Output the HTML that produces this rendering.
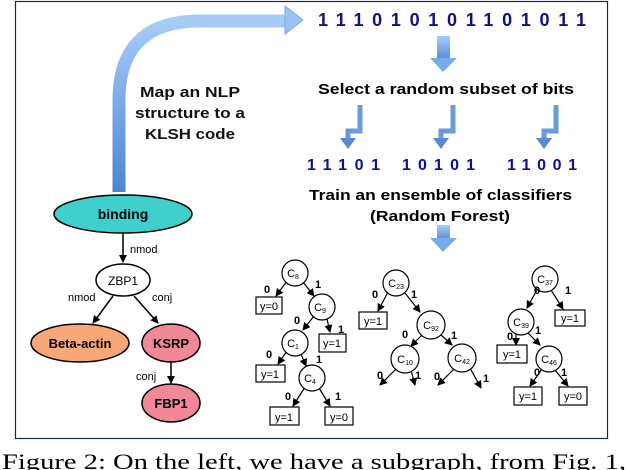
<!DOCTYPE html>
<html><head><meta charset="utf-8"><style>
body{margin:0;background:#fff;width:628px;height:470px;overflow:hidden}
svg{display:block}
.b{font-family:"Liberation Sans",sans-serif;font-weight:bold}
.s{font-family:"Liberation Sans",sans-serif}
</style></head><body>
<svg width="628" height="470" viewBox="0 0 628 470" xmlns="http://www.w3.org/2000/svg">
<defs>
<linearGradient id="g1" x1="0" y1="1" x2="0" y2="0"><stop offset="0" stop-color="#4a86d2"/><stop offset="1" stop-color="#a8ccf8"/></linearGradient>
<linearGradient id="g2" x1="0" y1="0" x2="0" y2="1"><stop offset="0" stop-color="#a8ccf8"/><stop offset="1" stop-color="#5a92da"/></linearGradient>
<marker id="a" markerWidth="8" markerHeight="8" refX="7" refY="4" orient="auto" markerUnits="userSpaceOnUse"><path d="M0,0 L8,4 L0,8 Z" fill="#000"/></marker>
</defs>
<rect x="15.5" y="1.5" width="592" height="437" fill="#fff" stroke="#1a2a3a" stroke-width="1.2"/>
<path d="M119,192 L119,100 Q119,21 200,21 L287,21" fill="none" stroke="url(#g1)" stroke-width="13"/>
<path d="M285,6 L303,20 L285,34 Z" fill="#9cc2f2" stroke="#7aa6e0" stroke-width="1"/>
<g class="b" font-size="15" fill="#111">
<text x="140" y="97" textLength="100" lengthAdjust="spacingAndGlyphs">Map an NLP</text>
<text x="135" y="118" textLength="110" lengthAdjust="spacingAndGlyphs">structure to a</text>
<text x="145" y="139" textLength="90" lengthAdjust="spacingAndGlyphs">KLSH code</text>
</g>
<ellipse cx="123" cy="214" rx="69" ry="19" fill="#40d0cc" stroke="#000" stroke-width="1.5"/>
<text x="123" y="219" class="b" font-size="14" text-anchor="middle">binding</text>
<line x1="123" y1="233" x2="123" y2="262" stroke="#000" stroke-width="1.5" marker-end="url(#a)"/>
<text x="130" y="253" class="s" font-size="11">nmod</text>
<ellipse cx="123" cy="280" rx="27" ry="16" fill="#fff" stroke="#000" stroke-width="1.5"/>
<text x="123" y="285" class="s" font-size="12" text-anchor="middle">ZBP1</text>
<line x1="113" y1="296" x2="93" y2="323" stroke="#000" stroke-width="1.5" marker-end="url(#a)"/>
<text x="68" y="301" class="s" font-size="11">nmod</text>
<line x1="134" y1="296" x2="158" y2="323" stroke="#000" stroke-width="1.5" marker-end="url(#a)"/>
<text x="152" y="301" class="s" font-size="11">conj</text>
<ellipse cx="80" cy="343" rx="49" ry="19" fill="#f8a878" stroke="#000" stroke-width="1.5"/>
<text x="80" y="348" class="b" font-size="13" text-anchor="middle">Beta-actin</text>
<ellipse cx="171" cy="343" rx="29" ry="19" fill="#f08898" stroke="#000" stroke-width="1.5"/>
<text x="171" y="348" class="b" font-size="13" text-anchor="middle">KSRP</text>
<line x1="171" y1="362" x2="171" y2="383" stroke="#000" stroke-width="1.5" marker-end="url(#a)"/>
<text x="136" y="380" class="s" font-size="11">conj</text>
<ellipse cx="171" cy="403" rx="29" ry="19" fill="#f08898" stroke="#000" stroke-width="1.5"/>
<text x="171" y="408" class="b" font-size="13" text-anchor="middle">FBP1</text>
<text x="318" y="26" class="b" font-size="18" fill="#10108a" textLength="268" lengthAdjust="spacing">111010101101011</text>
<rect x="437" y="36" width="13" height="22" fill="url(#g2)"/>
<path d="M430,58 L457,58 L443,72 Z" fill="#7aaaea"/>
<text x="318" y="94" class="b" font-size="15" textLength="256" lengthAdjust="spacingAndGlyphs">Select a random subset of bits</text>
<g fill="none" stroke="#6a9ad8" stroke-width="5">
<path d="M360,105 L360,131 L348,131 L348,140"/>
<path d="M453,105 L453,131 L441,131 L441,140"/>
<path d="M556,105 L556,131 L544,131 L544,140"/>
</g>
<g fill="#5a88cc">
<path d="M340,138 L356,138 L348,149 Z"/><path d="M433,138 L449,138 L441,149 Z"/><path d="M536,138 L552,138 L544,149 Z"/>
</g>
<g class="b" font-size="16" fill="#10108a">
<text x="307" y="170" textLength="73" lengthAdjust="spacing">11101</text>
<text x="402" y="170" textLength="73" lengthAdjust="spacing">10101</text>
<text x="507" y="170" textLength="70" lengthAdjust="spacing">11001</text>
</g>
<g class="b" font-size="15">
<text x="309" y="200" textLength="263" lengthAdjust="spacingAndGlyphs">Train an ensemble of classifiers</text>
<text x="370" y="221" textLength="140" lengthAdjust="spacingAndGlyphs">(Random Forest)</text>
</g>
<rect x="437" y="225" width="13" height="14" fill="url(#g2)"/>
<path d="M430,238 L457,238 L443,252 Z" fill="#7aaaea"/>
<g stroke="#000" stroke-width="1.2" fill="none">
<line x1="287" y1="281" x2="276" y2="296" marker-end="url(#a)"/>
<line x1="303" y1="282" x2="314" y2="296" marker-end="url(#a)"/>
<line x1="314" y1="316" x2="303" y2="330" marker-end="url(#a)"/>
<line x1="327" y1="319" x2="330" y2="332" marker-end="url(#a)"/>
<line x1="287" y1="351" x2="278" y2="364" marker-end="url(#a)"/>
<line x1="301" y1="354" x2="306" y2="366" marker-end="url(#a)"/>
<line x1="305" y1="387" x2="293" y2="406" marker-end="url(#a)"/>
<line x1="319" y1="388" x2="330" y2="406" marker-end="url(#a)"/>
<line x1="388" y1="292" x2="378" y2="311" marker-end="url(#a)"/>
<line x1="405" y1="293" x2="420" y2="312" marker-end="url(#a)"/>
<line x1="423" y1="334" x2="411" y2="346" marker-end="url(#a)"/>
<line x1="440" y1="334" x2="452" y2="345" marker-end="url(#a)"/>
<line x1="397" y1="368" x2="380" y2="385" marker-end="url(#a)"/>
<line x1="411" y1="370" x2="415" y2="385" marker-end="url(#a)"/>
<line x1="455" y1="368" x2="438" y2="385" marker-end="url(#a)"/>
<line x1="470" y1="368" x2="481" y2="388" marker-end="url(#a)"/>
<line x1="538" y1="288" x2="527" y2="308" marker-end="url(#a)"/>
<line x1="551" y1="290" x2="563" y2="309" marker-end="url(#a)"/>
<line x1="516" y1="334" x2="516" y2="345" marker-end="url(#a)"/>
<line x1="528" y1="333" x2="540" y2="345" marker-end="url(#a)"/>
<line x1="542" y1="369" x2="530" y2="386" marker-end="url(#a)"/>
<line x1="555" y1="370" x2="568" y2="386" marker-end="url(#a)"/>
</g>
<g fill="#fff" stroke="#000" stroke-width="1.2">
<circle cx="295" cy="273" r="13"/><circle cx="322" cy="307" r="13"/><circle cx="295" cy="343" r="13"/><circle cx="312" cy="378" r="13"/>
<circle cx="396" cy="283" r="13"/><circle cx="431" cy="325" r="14"/><circle cx="405" cy="359" r="14"/><circle cx="462" cy="358" r="14"/>
<circle cx="545" cy="279" r="13"/><circle cx="521" cy="322" r="13"/><circle cx="549" cy="359" r="13"/>
<rect x="256" y="297" width="26" height="17"/><rect x="319" y="334" width="27" height="18"/><rect x="256" y="365" width="29" height="17"/>
<rect x="270" y="407" width="29" height="18"/><rect x="325" y="407" width="28" height="18"/>
<rect x="359" y="312" width="28" height="17"/>
<rect x="555" y="310" width="30" height="16"/><rect x="497" y="345" width="30" height="18"/>
<rect x="514" y="387" width="28" height="18"/><rect x="559" y="387" width="28" height="18"/>
</g>
<g class="s" font-size="11" text-anchor="middle">
<text x="293" y="277">C<tspan font-size="7" dy="2">8</tspan></text>
<text x="320" y="311">C<tspan font-size="7" dy="2">9</tspan></text>
<text x="293" y="347">C<tspan font-size="7" dy="2">1</tspan></text>
<text x="310" y="382">C<tspan font-size="7" dy="2">4</tspan></text>
<text x="396" y="287">C<tspan font-size="7" dy="2">23</tspan></text>
<text x="431" y="329">C<tspan font-size="7" dy="2">92</tspan></text>
<text x="405" y="363">C<tspan font-size="7" dy="2">10</tspan></text>
<text x="462" y="362">C<tspan font-size="7" dy="2">42</tspan></text>
<text x="545" y="283">C<tspan font-size="7" dy="2">37</tspan></text>
<text x="521" y="326">C<tspan font-size="7" dy="2">39</tspan></text>
<text x="549" y="363">C<tspan font-size="7" dy="2">46</tspan></text>
<text x="269" y="310">y=0</text><text x="332" y="347">y=1</text><text x="270" y="378">y=1</text>
<text x="284" y="421">y=1</text><text x="339" y="421">y=0</text><text x="373" y="325">y=1</text>
<text x="570" y="322">y=1</text><text x="512" y="358">y=1</text><text x="528" y="400">y=1</text><text x="573" y="400">y=0</text>
</g>
<g class="s" font-size="11" font-weight="bold">
<text x="264" y="293">0</text><text x="315" y="288">1</text>
<text x="294" y="324">0</text><text x="338" y="333">1</text>
<text x="266" y="358">0</text><text x="316" y="363">1</text>
<text x="285" y="400">0</text><text x="335" y="400">1</text>
<text x="372" y="298">0</text><text x="411" y="298">1</text>
<text x="402" y="338">0</text><text x="451" y="339">1</text>
<text x="377" y="379">0</text><text x="415" y="379">1</text>
<text x="434" y="380">0</text><text x="483" y="382">1</text>
<text x="534" y="294">0</text><text x="565" y="294">1</text>
<text x="507" y="340">0</text><text x="535" y="334">1</text>
<text x="534" y="376">0</text><text x="561" y="376">1</text>
</g>
<text x="2" y="469" font-family="Liberation Serif,serif" font-size="22" textLength="624" lengthAdjust="spacingAndGlyphs">Figure 2: On the left, we have a subgraph, from Fig. 1,</text>
</svg>
</body></html>
